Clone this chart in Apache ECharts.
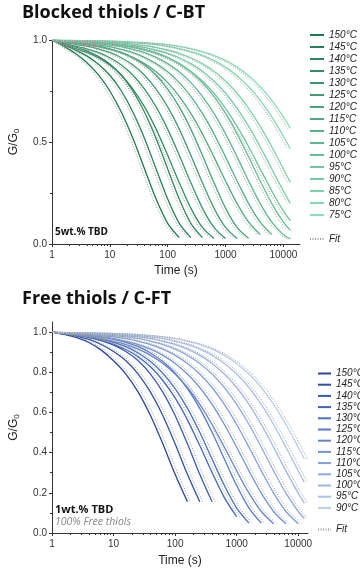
<!DOCTYPE html>
<html><head><meta charset="utf-8">
<script src="https://cdn.jsdelivr.net/npm/echarts@6/dist/echarts.min.js"></script>
<style>html,body{margin:0;padding:0;background:#fff;}#c1,#c2{width:360px;height:286px;}</style>
</head><body><div id="c1"></div><div id="c2"></div>
<script>
// ---------- DATA: Blocked thiols / C-BT ----------
const topTimes = [1,1.585,2.512,3.981,6.31,10,15.85,25.12,39.81,63.1,100,158.5,251.2,398.1,631,1000,1585,2512,3981,6310,10000,13200];
const topFitTimes = [1,1.413,2.239,3.548,5.623,8.913,14.13,22.39,35.48,56.23,89.13,141.3,223.9,354.8,562.3,891.3,1413,2239,3548,5623,8913,11760];
const topNames = ['150°C','145°C','140°C','135°C','130°C','125°C','120°C','115°C','110°C','105°C','100°C','95°C','90°C','85°C','80°C','75°C'];
const t150 = [1.0,0.97,0.935,0.89,0.83,0.75,0.646,0.517,0.368,0.22,0.101,0.031];
const t145 = [1.0,0.976,0.952,0.922,0.882,0.827,0.75,0.646,0.517,0.368,0.22,0.101,0.031];
const t140 = [1.0,0.982,0.966,0.947,0.92,0.882,0.827,0.75,0.646,0.517,0.368,0.22,0.101,0.031];
const t135 = [1.0,0.978,0.959,0.939,0.913,0.877,0.827,0.759,0.672,0.563,0.435,0.301,0.176,0.081,0.027];
const t130 = [1.0,0.983,0.97,0.957,0.939,0.913,0.877,0.827,0.759,0.672,0.563,0.435,0.301,0.176,0.081,0.027];
const t125 = [1.0,0.988,0.979,0.97,0.957,0.939,0.913,0.877,0.827,0.759,0.672,0.563,0.435,0.301,0.176,0.081,0.027];
const t120 = [1.0,0.991,0.986,0.979,0.97,0.957,0.939,0.913,0.877,0.827,0.759,0.672,0.563,0.435,0.301,0.176,0.081,0.027];
const t115 = [1.0,0.99,0.983,0.976,0.967,0.954,0.938,0.915,0.884,0.844,0.791,0.724,0.64,0.54,0.427,0.309,0.198,0.107,0.046];
const t110 = [1.0,0.992,0.987,0.982,0.976,0.967,0.954,0.938,0.915,0.884,0.844,0.791,0.724,0.64,0.54,0.427,0.309,0.198,0.107,0.046];
const t105 = [1.0,0.993,0.991,0.987,0.982,0.976,0.967,0.954,0.938,0.915,0.884,0.844,0.791,0.724,0.64,0.54,0.427,0.309,0.198,0.107,0.046,0.025];
const t100 = [1.0,0.995,0.993,0.991,0.987,0.982,0.976,0.967,0.954,0.938,0.915,0.884,0.844,0.791,0.724,0.64,0.54,0.427,0.309,0.198,0.107,0.067];
const t95 = [1.0,0.995,0.992,0.989,0.985,0.98,0.973,0.964,0.951,0.935,0.913,0.884,0.847,0.799,0.739,0.665,0.577,0.477,0.368,0.26,0.162,0.114];
const t90 = [1.0,0.996,0.994,0.992,0.989,0.985,0.98,0.973,0.964,0.951,0.935,0.913,0.884,0.847,0.799,0.739,0.665,0.577,0.477,0.368,0.26,0.199];
const t85 = [1.0,0.997,0.995,0.994,0.992,0.989,0.985,0.98,0.973,0.964,0.951,0.935,0.913,0.884,0.847,0.799,0.739,0.665,0.577,0.477,0.368,0.302];
const t80 = [1.0,0.998,0.997,0.996,0.995,0.993,0.99,0.987,0.983,0.977,0.969,0.958,0.943,0.925,0.9,0.867,0.825,0.771,0.704,0.623,0.528,0.466];
const t75 = [1.0,0.998,0.998,0.997,0.996,0.995,0.993,0.99,0.987,0.983,0.977,0.969,0.958,0.943,0.925,0.9,0.867,0.825,0.771,0.704,0.623,0.567];
const topValues = [t150,t145,t140,t135,t130,t125,t120,t115,t110,t105,t100,t95,t90,t85,t80,t75];
const topColors = ['#1d7a4f','#238157','#2a885e','#318f65','#38966c','#3f9d73','#46a47a','#4eab81','#55b288','#5cb98f','#63c096','#6bc69d','#72cda4','#7ad3ab','#82d9b2','#8adfb8'];

// ---------- DATA: Free thiols / C-FT ----------
const botTimes = [1,1.585,2.512,3.981,6.31,10,15.85,25.12,39.81,63.1,100,158.5,251.2,398.1,631,1000,1585,2512,3981,6310,10000,12590];
const botFitTimes = [1,1.778,2.818,4.467,7.079,11.22,17.78,28.18,44.67,70.79,112.2,177.8,281.8,446.7,707.9,1122,1778,2818,4467,7079,11220,14130];
const botNames = ['150°C','145°C','140°C','135°C','130°C','125°C','120°C','115°C','110°C','105°C','100°C','95°C','90°C'];
const b150 = [1.0,0.988,0.972,0.948,0.91,0.857,0.791,0.701,0.585,0.444,0.292,0.155];
const b145 = [1.0,0.991,0.98,0.963,0.938,0.903,0.857,0.791,0.701,0.585,0.444,0.292,0.155];
const b140 = [1.0,0.993,0.986,0.974,0.957,0.935,0.903,0.857,0.791,0.701,0.585,0.444,0.292,0.155];
const b135 = [1.0,0.992,0.984,0.973,0.958,0.939,0.913,0.877,0.827,0.759,0.672,0.563,0.435,0.301,0.176,0.081];
const b130 = [1.0,0.993,0.986,0.977,0.965,0.949,0.927,0.896,0.853,0.795,0.718,0.62,0.501,0.368,0.236,0.124,0.049];
const b125 = [1.0,0.994,0.989,0.983,0.975,0.964,0.949,0.927,0.896,0.853,0.795,0.718,0.62,0.501,0.368,0.236,0.124,0.049];
const b120 = [1.0,0.992,0.985,0.977,0.967,0.954,0.938,0.915,0.884,0.844,0.791,0.724,0.64,0.54,0.427,0.309,0.198,0.107,0.046];
const b115 = [1.0,0.993,0.988,0.982,0.976,0.967,0.954,0.938,0.915,0.884,0.844,0.791,0.724,0.64,0.54,0.427,0.309,0.198,0.107,0.046];
const b110 = [1.0,0.994,0.991,0.987,0.982,0.976,0.967,0.954,0.938,0.915,0.884,0.844,0.791,0.724,0.64,0.54,0.427,0.309,0.198,0.107,0.046];
const b105 = [1.0,0.995,0.993,0.991,0.987,0.982,0.976,0.967,0.954,0.938,0.915,0.884,0.844,0.791,0.724,0.64,0.54,0.427,0.309,0.198,0.107,0.072];
const b100 = [1.0,0.996,0.995,0.993,0.991,0.987,0.982,0.976,0.967,0.954,0.938,0.915,0.884,0.844,0.791,0.724,0.64,0.54,0.427,0.309,0.198,0.149];
const b95 = [1.0,0.997,0.996,0.995,0.993,0.991,0.987,0.982,0.976,0.967,0.954,0.938,0.915,0.884,0.844,0.791,0.724,0.64,0.54,0.427,0.309,0.252];
const b90 = [1.0,0.998,0.997,0.996,0.995,0.993,0.991,0.987,0.982,0.976,0.967,0.954,0.938,0.915,0.884,0.844,0.791,0.724,0.64,0.54,0.427,0.368];
const botValues = [b150,b145,b140,b135,b130,b125,b120,b115,b110,b105,b100,b95,b90];
const botColors = ['#2a449c','#3050a8','#365bb3','#3f66bd','#4a70c4','#577bca','#6586cf','#7392d5','#819eda','#8faadf','#9db6e4','#abc2e9','#b9cdee'];

// ---------- TICKS ----------
const xMajorTicks = [1,10,100,1000,10000];
const xMinorTicks = [2,3,4,5,6,7,8,9,20,30,40,50,60,70,80,90,200,300,400,500,600,700,800,900,2000,3000,4000,5000,6000,7000,8000,9000];
const topYTicks = [0,0.5,1.0];
const topYMinor = [0.25,0.75];
const botYTicks = [0,0.2,0.4,0.6,0.8,1.0];
const botYMinor = [0.1,0.3,0.5,0.7,0.9];

const FONT = 'Liberation Sans, Arial, sans-serif';
const TITLE_FONT = 'Open Sans, sans-serif';
const axisCol = '#333';

function buildSeries(times, fitTimes, valuesList, names, colors) {
  const s = [];
  valuesList.forEach((vals, i) => {
    s.push({type:'line', name:names[i], data: vals.map((v,k)=>[times[k], v]), symbol:'none', smooth:0.3,
      lineStyle:{color:colors[i], width:1.3}, itemStyle:{color:colors[i]}, z:2, silent:true, animation:false});
  });
  valuesList.forEach((vals) => {
    s.push({type:'line', name:'Fit', data: vals.map((v,k)=>[fitTimes[k], v]), symbol:'none', smooth:0.3,
      lineStyle:{color:'#9c9c9c', width:1, type:[1,1.5]}, itemStyle:{color:'#9c9c9c'}, z:3, silent:true, animation:false});
  });
  return s;
}

function makeOption(cfg) {
  const legendText = {fontStyle:'italic', fontSize:10, fontFamily:FONT, color:'#222', lineHeight:cfg.legendLH};
  return {
    animation:false,
    title:{text:cfg.title, left:17, top:cfg.titleTop, textStyle:{fontFamily:TITLE_FONT, fontWeight:'bold', fontSize:18, color:'#111'}},
    grid:{left:44, top:cfg.gridTop, width:cfg.gridW, height:cfg.gridH},
    legend:[
      {orient:'vertical', left:cfg.legLeft, top:cfg.legTop, itemWidth:cfg.legIW, itemHeight:6, itemGap:cfg.legGap, data:cfg.names, textStyle:legendText, selectedMode:false, itemStyle:{opacity:0}},
      {orient:'vertical', left:cfg.legLeft, top:cfg.fitTop, itemWidth:cfg.legIW, itemHeight:6, data:['Fit'], textStyle:legendText, selectedMode:false, itemStyle:{opacity:0}}
    ],
    xAxis:[
      {type:'log', logBase:10, min:1, max:cfg.xMax, name:'Time (s)', nameLocation:'middle', nameGap:cfg.xNameGap,
       nameTextStyle:{fontFamily:FONT, fontSize:12, color:'#222'},
       axisLine:{lineStyle:{color:axisCol, width:1}},
       axisTick:{show:true, length:3, customValues:xMajorTicks, lineStyle:{color:axisCol}},
       axisLabel:{customValues:xMajorTicks, fontFamily:FONT, fontSize:10, color:'#333', margin:6, formatter:(v)=>String(v)},
       splitLine:{show:false}},
      {type:'log', logBase:10, min:1, max:cfg.xMax, position:'bottom', axisLine:{show:false},
       axisTick:{show:true, length:2, customValues:xMinorTicks, lineStyle:{color:axisCol}},
       axisLabel:{show:false}, splitLine:{show:false}}
    ],
    yAxis:[
      {type:'value', min:0, max:cfg.yMax, name:'G/G{s|0}', nameLocation:'middle', nameGap:cfg.yNameGap,
       nameTextStyle:{fontFamily:FONT, fontSize:12, color:'#222', rich:{s:{fontSize:8, fontFamily:FONT, color:'#222', padding:[6,0,0,0]}}},
       axisLine:{show:true, lineStyle:{color:axisCol, width:1}},
       axisTick:{show:true, length:3, customValues:cfg.yTicks, lineStyle:{color:axisCol}},
       axisLabel:{customValues:cfg.yTicks, fontFamily:FONT, fontSize:10, color:'#333', margin:5, formatter:(v)=>v.toFixed(1)},
       splitLine:{show:false}},
      {type:'value', min:0, max:cfg.yMax, position:'left', axisLine:{show:false},
       axisTick:{show:true, length:2, customValues:cfg.yMinor, lineStyle:{color:axisCol}},
       axisLabel:{show:false}, splitLine:{show:false}}
    ],
    graphic: cfg.graphic,
    series: buildSeries(cfg.times, cfg.fitTimes, cfg.values, cfg.names, cfg.colors)
  };
}

const c1 = echarts.init(document.getElementById('c1'), null, {renderer:'canvas'});
c1.setOption(makeOption({
  title:'Blocked thiols / C-BT', titleTop:-1, gridTop:40, gridW:256, gridH:204, xMax:19400, yMax:1.0,
  legLeft:304, legIW:14, legTop:24, legGap:0, legendLH:12, fitTop:228, names:topNames,
  xNameGap:21, yNameGap:31, yTicks:topYTicks, yMinor:topYMinor,
  times:topTimes, fitTimes:topFitTimes, values:topValues, colors:topColors,
  graphic:[{type:'text', left:55, top:227, style:{text:'5wt.% TBD', font:'bold 10px '+TITLE_FONT, fill:'#111'}}]
}));

const c2 = echarts.init(document.getElementById('c2'), null, {renderer:'canvas'});
c2.setOption(makeOption({
  title:'Free thiols / C-FT', titleTop:-1, gridTop:36, gridW:264, gridH:212, xMax:14400, yMax:1.05,
  legLeft:312, legIW:13, legTop:77, legGap:0.2, legendLH:11, fitTop:233, names:botNames,
  xNameGap:22, yNameGap:31, yTicks:botYTicks, yMinor:botYMinor,
  times:botTimes, fitTimes:botFitTimes, values:botValues, colors:botColors,
  graphic:[
    {type:'text', left:55, top:218, style:{text:'1wt.% TBD', font:'bold 11px '+TITLE_FONT, fill:'#111'}},
    {type:'text', left:55, top:231, style:{text:'100% Free thiols', font:'italic 10.5px '+TITLE_FONT, fill:'#888'}}
  ]
}));
</script></body></html>
